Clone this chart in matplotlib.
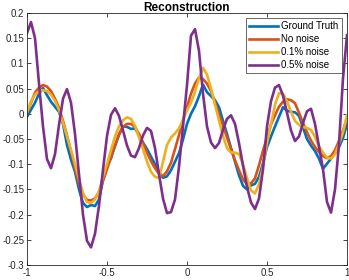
import numpy as np
import matplotlib
matplotlib.use("Agg")
import matplotlib.pyplot as plt

plt.rcParams['font.family'] = ['Liberation Sans', 'DejaVu Sans']
plt.rcParams['axes.unicode_minus'] = False

title = "Reconstruction"
series_names = ["Ground Truth", "No noise", "0.1% noise", "0.5% noise"]
x_ticks = [-1, -0.5, 0, 0.5, 1]
x_tick_labels = ["-1", "-0.5", "0", "0.5", "1"]
y_ticks = [-0.3, -0.25, -0.2, -0.15, -0.1, -0.05, 0, 0.05, 0.1, 0.15, 0.2]
y_tick_labels = ["-0.3", "-0.25", "-0.2", "-0.15", "-0.1", "-0.05", "0", "0.05", "0.1", "0.15", "0.2"]

# sample positions (step 0.025 from -1 to 1)
x = np.round(np.arange(-1.0, 1.0001, 0.025), 3)

ground_truth = [
    -0.006, 0.008, 0.022, 0.040, 0.051, 0.037, 0.024, 0.014, 0.004, -0.020,
    -0.062, -0.091, -0.115, -0.150, -0.177, -0.185, -0.181, -0.183, -0.170, -0.132,
    -0.105, -0.088, -0.064, -0.042, -0.025, -0.026, -0.030, -0.029, -0.042, -0.057,
    -0.070, -0.085, -0.100, -0.116, -0.127, -0.124, -0.112, -0.095, -0.078, -0.051,
    -0.020, 0.000, 0.015, 0.035, 0.058, 0.043, 0.035, 0.027, 0.013, -0.014,
    -0.040, -0.068, -0.095, -0.122, -0.143, -0.150, -0.142, -0.139, -0.125, -0.098,
    -0.066, -0.045, -0.025, -0.006, 0.013, 0.006, 0.004, 0.003, -0.004, -0.027,
    -0.050, -0.063, -0.074, -0.089, -0.109, -0.099, -0.089, -0.078, -0.066, -0.048,
    -0.020,
]

no_noise = [
    0.001, 0.022, 0.042, 0.052, 0.057, 0.054, 0.045, 0.030, 0.012, -0.014,
    -0.043, -0.075, -0.108, -0.139, -0.160, -0.171, -0.172, -0.168, -0.155, -0.133,
    -0.110, -0.085, -0.062, -0.040, -0.026, -0.020, -0.020, -0.026, -0.040, -0.058,
    -0.077, -0.094, -0.108, -0.119, -0.124, -0.114, -0.097, -0.070, -0.042, -0.013,
    0.013, 0.040, 0.060, 0.072, 0.069, 0.060, 0.045, 0.023, -0.002, -0.023,
    -0.047, -0.070, -0.092, -0.112, -0.130, -0.140, -0.138, -0.128, -0.102, -0.073,
    -0.047, -0.021, -0.003, 0.014, 0.024, 0.029, 0.027, 0.021, 0.002, -0.018,
    -0.037, -0.053, -0.066, -0.076, -0.084, -0.088, -0.084, -0.072, -0.054, -0.033,
    -0.009,
]

noise_01 = [
    0.003, 0.025, 0.038, 0.045, 0.047, 0.045, 0.038, 0.026, 0.008, -0.018,
    -0.045, -0.072, -0.100, -0.130, -0.157, -0.175, -0.177, -0.170, -0.153, -0.125,
    -0.100, -0.072, -0.045, -0.025, -0.013, -0.007, -0.010, -0.024, -0.047, -0.070,
    -0.095, -0.115, -0.125, -0.127, -0.095, -0.062, -0.047, -0.039, -0.029, -0.012,
    0.007, 0.022, 0.044, 0.071, 0.091, 0.078, 0.050, 0.018, -0.013, -0.044,
    -0.068, -0.077, -0.077, -0.080, -0.100, -0.128, -0.152, -0.158, -0.140, -0.104,
    -0.058, -0.020, 0.018, 0.041, 0.040, 0.025, 0.004, -0.014, -0.022, -0.026,
    -0.028, -0.032, -0.046, -0.065, -0.077, -0.087, -0.089, -0.080, -0.060, -0.037,
    -0.003,
]

noise_05 = [
    0.160, 0.182, 0.150, 0.060, -0.025, -0.090, -0.108, -0.080, -0.022, 0.030,
    0.049, 0.022, -0.040, -0.120, -0.200, -0.252, -0.265, -0.238, -0.182, -0.111,
    -0.044, -0.002, 0.011, -0.004, -0.033, -0.063, -0.083, -0.086, -0.068, -0.043,
    -0.028, -0.034, -0.068, -0.120, -0.168, -0.197, -0.195, -0.170, -0.105, -0.025,
    0.057, 0.155, 0.168, 0.125, 0.040, -0.025, -0.057, -0.068, -0.058, -0.032,
    -0.010, -0.003, -0.020, -0.058, -0.103, -0.145, -0.176, -0.189, -0.168, -0.110,
    -0.025, 0.025, 0.052, 0.057, 0.036, 0.002, -0.033, -0.054, -0.045, -0.018,
    0.005, 0.010, -0.020, -0.065, -0.110, -0.175, -0.196, -0.150, -0.060, 0.070,
    0.156,
]

colors = ["#0072BD", "#D95319", "#EDB120", "#7E2F8E"]
axis_color = "#262626"

fig = plt.figure(figsize=(3.49, 2.80), dpi=100)
ax = fig.add_axes([27 / 349, 15 / 280, 320 / 349, 252 / 280])

for ys, name, c in zip([ground_truth, no_noise, noise_01, noise_05], series_names, colors):
    ax.plot(x, ys, color=c, lw=1.9, label=name, solid_joinstyle='round')

ax.set_xlim(-1, 1)
ax.set_ylim(-0.3, 0.2)
ax.set_xticks(x_ticks)
ax.set_xticklabels(x_tick_labels)
ax.set_yticks(y_ticks)
ax.set_yticklabels(y_tick_labels)
ax.tick_params(direction='in', top=True, right=True, length=3, width=0.6,
               labelsize=7, colors=axis_color, pad=2)
for s in ax.spines.values():
    s.set_color(axis_color)
    s.set_linewidth(0.6)
ax.set_title(title, fontsize=8.5, fontweight='bold', pad=1.5, color='black')

leg = ax.legend(loc='upper right', fontsize=7, frameon=True, fancybox=False,
                handlelength=2.9, handletextpad=0.4, borderpad=0.35,
                labelspacing=0.3, borderaxespad=0.5)
leg.get_frame().set_edgecolor(axis_color)
leg.get_frame().set_linewidth(0.6)

fig.savefig("out.png", dpi=100)
